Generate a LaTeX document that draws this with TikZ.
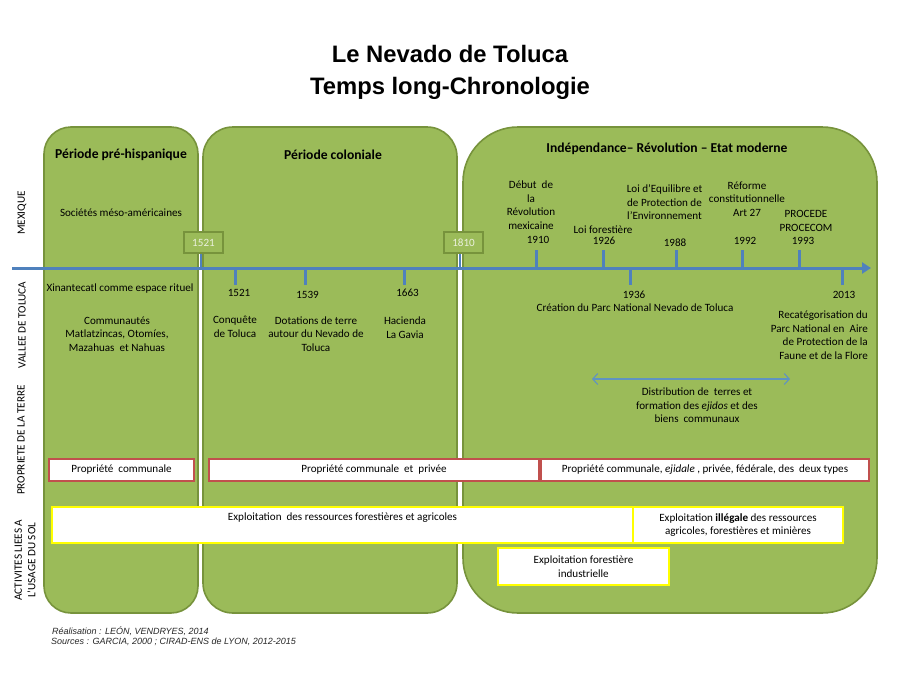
\documentclass[tikz,border=0pt]{standalone}
\usepackage{fontspec}
\setmainfont{Carlito}
\newfontfamily\arialf{Liberation Sans}
\usetikzlibrary{arrows.meta}
\definecolor{pgreen}{HTML}{9BBB59}
\definecolor{pborder}{HTML}{77933C}
\definecolor{axisblue}{HTML}{4F81BD}
\definecolor{arrblue}{HTML}{5F93C2}
\definecolor{propred}{HTML}{C0504D}
\definecolor{actyel}{HTML}{FFFF00}
\definecolor{yeartext}{HTML}{EBF1DE}
\begin{document}
\begin{tikzpicture}[x=1pt,y=-1pt,
  font=\fontsize{11.1}{13.6}\selectfont,
  panel/.style={fill=pgreen, draw=pborder, line width=1.6pt},
  heading/.style={font=\fontsize{13.6}{16}\selectfont\bfseries, inner sep=0pt},
  txt/.style={align=center, inner sep=0pt},
  rowlab/.style={rotate=90, align=center, inner sep=0pt, font=\fontsize{11.2}{13.5}\selectfont},
  yearbox/.style={fill=pgreen, draw=pborder, line width=2.5pt, minimum width=39pt, minimum height=21pt, inner sep=0pt, text=yeartext},
  tick/.style={draw=axisblue, line width=3pt},
  link/.style={draw=axisblue, line width=1.8pt},
  propbox/.style={fill=white, draw=propred, line width=2pt, minimum height=22pt, inner sep=0pt},
  actbox/.style={fill=white, draw=actyel, line width=2pt, inner sep=0pt, align=center},
  foot/.style={font=\arialf\itshape\fontsize{9}{10}\selectfont, inner sep=0pt, anchor=west, text=black!85}
]
\useasboundingbox (0,0) rectangle (900,675);

% Title
\node[txt, font=\arialf\bfseries\fontsize{23.8}{32}\selectfont] (title) at (450,72) {Le Nevado de Toluca\\Temps long-Chronologie};

% Panels
\draw[panel, rounded corners=27pt] (44,127) rectangle (198,613);
\draw[panel, rounded corners=30pt] (203,127) rectangle (457,613);
\draw[panel, rounded corners=55pt] (463,127) rectangle (877,613);

% Row labels
\node[rowlab] (rmex) at (22,213) {MEXIQUE};
\node[rowlab] (rval) at (22,325) {VALLEE DE TOLUCA};
\node[rowlab] (rprop) at (21,440) {PROPRIETE DE LA TERRE};
\node[rowlab] (ract) at (25,560) {ACTIVITES LIEES A\\L'USAGE DU SOL};

% Headings
\node[heading] (h1) at (121,155) {Période pré-hispanique};
\node[heading] (h2) at (333,155) {Période coloniale};
\node[heading] (h3) at (667,149) {Indépendance– Révolution – Etat moderne};

% Axis
\coordinate (axs) at (12,268);
\coordinate (axe) at (871,268);
\draw[draw=axisblue, line width=3pt, -{Triangle[length=9pt,width=11pt]}] (axs) -- (axe);

% Year boxes
\node[yearbox] (b1521) at (203.5,242.5) {1521};
\node[yearbox] (b1810) at (463.5,242.5) {1810};
\coordinate (ax1521) at (201,268);
\coordinate (ax1810) at (460,268);
\draw[link] (b1521.south -| ax1521) -- (ax1521);
\draw[link] (b1810.south -| ax1810) -- (ax1810);

% Ticks below
\foreach \n/\x in {t1521/235, t1539/305, t1663/404, t1936/630, t2013/842}{
  \coordinate (\n a) at (\x,268);
  \coordinate (\n b) at (\x,285);
  \draw[tick] (\n a) -- (\n b);
}
% Ticks above
\foreach \n/\x in {t1910/536, t1926/603, t1988/676, t1992/742, t1993/799}{
  \coordinate (\n a) at (\x,268);
  \coordinate (\n b) at (\x,250);
  \draw[tick] (\n a) -- (\n b);
}

% Panel 1 texts
\node[txt] (soc) at (121,213) {Sociétés méso-américaines};
\node[txt] (xin) at (120,288.5) {Xinantecatl comme espace rituel};
\node[txt] (com) at (117,334) {Communautés\\Matlatzincas, Otomíes,\\Mazahuas\ \ et Nahuas};

% Panel 2 texts
\node[txt] (y1521) at (239,293) {1521};
\node[txt] (conq) at (235,327) {Conquête\\de Toluca};
\node[txt] (y1539) at (307.5,294.5) {1539};
\node[txt] (dot) at (316,334) {Dotations de terre\\autour du Nevado de\\Toluca};
\node[txt] (y1663) at (407.5,293) {1663};
\node[txt] (hac) at (405,327.5) {Hacienda\\La Gavia};

% Panel 3 texts above axis
\node[txt] (deb) at (531,205) {Début\ \ de\\la\\Révolution\\mexicaine};
\node[txt] (y1910) at (538,240) {1910};
\node[txt] (loif) at (603,229.5) {Loi forestière};
\node[txt] (y1926) at (604,241) {1926};
\node[txt] (loie) at (664.5,202.5) {Loi d’Equilibre et\\de Protection de\\l’Environnement};
\node[txt] (y1988) at (675,243) {1988};
\node[txt] (ref) at (747,199) {Réforme\\constitutionnelle\\Art 27};
\node[txt] (y1992) at (745,241) {1992};
\node[txt] (proc) at (806,221) {PROCEDE\\PROCECOM};
\node[txt] (y1993) at (803,241) {1993};

% Panel 3 texts below axis
\node[txt] (y1936) at (634,295) {1936};
\node[txt] (crea) at (635,307.5) {Création du Parc National Nevado de Toluca};
\node[txt] (y2013) at (844,295) {2013};
\node[txt, align=right, anchor=east] (recat) at (868,335) {Recatégorisation du\\Parc National en\ \ Aire\\de Protection de la\\Faune et de la Flore};

\coordinate (da) at (592,379);
\coordinate (db) at (790,379);
\draw[draw=arrblue, line width=1.1pt, {Straight Barb[length=5pt,width=11pt]}-{Straight Barb[length=5pt,width=11pt]}] (da) -- (db);
\node[txt] (distr) at (697,405.5) {Distribution de\ \ terres et\\formation des \textit{ejidos} et des\\biens\ \ communaux};

% Property boxes
\node[propbox, minimum width=145pt] (p1) at (121.5,469.5) {Propriété\ \ communale};
\node[propbox, minimum width=330pt] (p2) at (374,469.5) {Propriété communale\ \ et\ \ privée};
\node[propbox, minimum width=328pt] (p3) at (705,469.5) {Propriété communale, \textit{ejidale} , privée, fédérale, des\ \ deux types};

% Activity boxes
\node[actbox, minimum width=581pt, minimum height=36pt] (a1) at (342.5,525) {Exploitation\ \ des ressources forestières et agricoles\\\strut};
\node[actbox, minimum width=210pt, minimum height=36pt] (a2) at (738,525) {Exploitation \textbf{illégale} des ressources\\agricoles, forestières et minières};
\node[actbox, minimum width=171pt, minimum height=37pt] (a3) at (583.5,566.5) {Exploitation forestière\\industrielle};

% Footer
\node[foot] (f1) at (52,631) {Réalisation : LEÓN, VENDRYES, 2014};
\node[foot] (f2) at (51,642) {Sources : GARCIA, 2000 ; CIRAD-ENS de LYON, 2012-2015};
\end{tikzpicture}
\end{document}
